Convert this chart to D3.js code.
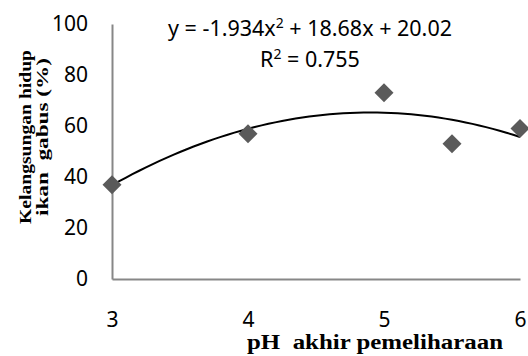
<!DOCTYPE html>
<html>
<head>
<meta charset="utf-8">
<script src="https://cdn.jsdelivr.net/npm/d3@7"></script>
<style>
  body { margin: 0; background: #fff; }
  svg { display: block; }
</style>
</head>
<body>
<figure id="chart" style="margin:0"></figure>
<script>
// survival of snakehead fish vs final pH
const phValues = [3, 4, 5, 5.5, 6];
const survival = [37, 57, 73, 53, 59];
const xTicks = [3, 4, 5, 6];
const yTicks = [0, 20, 40, 60, 80, 100];
const equationText = ["y = -1.934x", "2", " + 18.68x + 20.02"];
const r2Text = ["R", "2", " = 0.755"];

const size = { width: 528, height: 356 };
const plot = { left: 112, right: 520, top: 24, bottom: 279 };

const svg = d3.select("#chart").append("svg")
  .attr("width", size.width)
  .attr("height", size.height);

const x = d3.scaleLinear().domain([3, 6]).range([plot.left, plot.right]);
const y = d3.scaleLinear().domain([0, 100]).range([plot.bottom, plot.top]);

const labelFont = "'Noto Sans', sans-serif";
const titleFont = "'Liberation Serif', 'Times New Roman', serif";

// axes: plain lines, no tick marks
const yAxis = svg.append("g")
  .attr("transform", `translate(${plot.left},0)`)
  .call(d3.axisLeft(y).tickValues(yTicks).tickFormat(d3.format("d")).tickSize(0).tickPadding(24));
const xAxis = svg.append("g")
  .attr("transform", `translate(0,${plot.bottom})`)
  .call(d3.axisBottom(x).tickValues(xTicks).tickFormat(d3.format("d")).tickSize(0).tickPadding(33));

[yAxis, xAxis].forEach(g => {
  g.select(".domain").attr("stroke", "#878787").attr("stroke-width", 2);
  g.selectAll("text")
    .attr("fill", "#000")
    .style("font-family", labelFont)
    .style("font-size", "21px");
});

// quadratic trendline (least squares through the points)
function quadFit(xs, ys) {
  const n = xs.length;
  let s = [0, 0, 0, 0, 0], t = [0, 0, 0];
  for (let i = 0; i < n; i++) {
    for (let k = 0; k < 5; k++) s[k] += Math.pow(xs[i], k);
    for (let k = 0; k < 3; k++) t[k] += ys[i] * Math.pow(xs[i], k);
  }
  const A = [[s[0], s[1], s[2], t[0]], [s[1], s[2], s[3], t[1]], [s[2], s[3], s[4], t[2]]];
  for (let i = 0; i < 3; i++) {
    for (let j = i + 1; j < 3; j++) {
      const f = A[j][i] / A[i][i];
      for (let k = i; k < 4; k++) A[j][k] -= f * A[i][k];
    }
  }
  const c = [0, 0, 0];
  for (let i = 2; i >= 0; i--) {
    let v = A[i][3];
    for (let k = i + 1; k < 3; k++) v -= A[i][k] * c[k];
    c[i] = v / A[i][i];
  }
  return xv => c[0] + c[1] * xv + c[2] * xv * xv;
}

const fit = quadFit(phValues, survival);
const curveX = d3.range(3, 6.0001, 0.05);
svg.append("path")
  .datum(curveX)
  .attr("fill", "none")
  .attr("stroke", "#000")
  .attr("stroke-width", 2)
  .attr("d", d3.line().x(d => x(d)).y(d => y(fit(d))));

// diamond markers
svg.selectAll(".pt")
  .data(phValues.map((d, i) => [d, survival[i]]))
  .join("path")
  .attr("class", "pt")
  .attr("transform", d => `translate(${x(d[0])},${y(d[1])}) rotate(45)`)
  .attr("d", d3.symbol(d3.symbolSquare, 180)())
  .attr("fill", "#5a5a5a");

// equation labels
function supText(parts, cx, cy) {
  const t = svg.append("text")
    .attr("x", cx).attr("y", cy)
    .attr("text-anchor", "middle")
    .style("font-family", labelFont)
    .style("font-size", "21.5px");
  t.append("tspan").text(parts[0]);
  t.append("tspan").attr("dy", -8).style("font-size", "14px").text(parts[1]);
  t.append("tspan").attr("dy", 8).text(parts[2]);
}
supText(equationText, 310, 36);
supText(r2Text, 310, 66.5);

// axis titles (stretched along the text as in the source image)
const yTitle = svg.append("g")
  .attr("transform", "translate(31,137) rotate(-90)")
  .style("font-family", titleFont)
  .style("font-weight", "bold")
  .style("font-size", "16px");
yTitle.append("text").attr("x", -87).attr("y", 0)
  .attr("textLength", 174).attr("lengthAdjust", "spacingAndGlyphs")
  .text("Kelangsungan hidup");
yTitle.append("text").attr("x", -79).attr("y", 17)
  .attr("textLength", 158).attr("lengthAdjust", "spacingAndGlyphs")
  .text("ikan\u00a0 gabus (%)");

svg.append("text")
  .attr("x", 247).attr("y", 349)
  .attr("textLength", 256).attr("lengthAdjust", "spacingAndGlyphs")
  .style("font-family", titleFont)
  .style("font-weight", "bold")
  .style("font-size", "20px")
  .text("pH\u00a0 akhir pemeliharaan");
</script>
</body>
</html>
